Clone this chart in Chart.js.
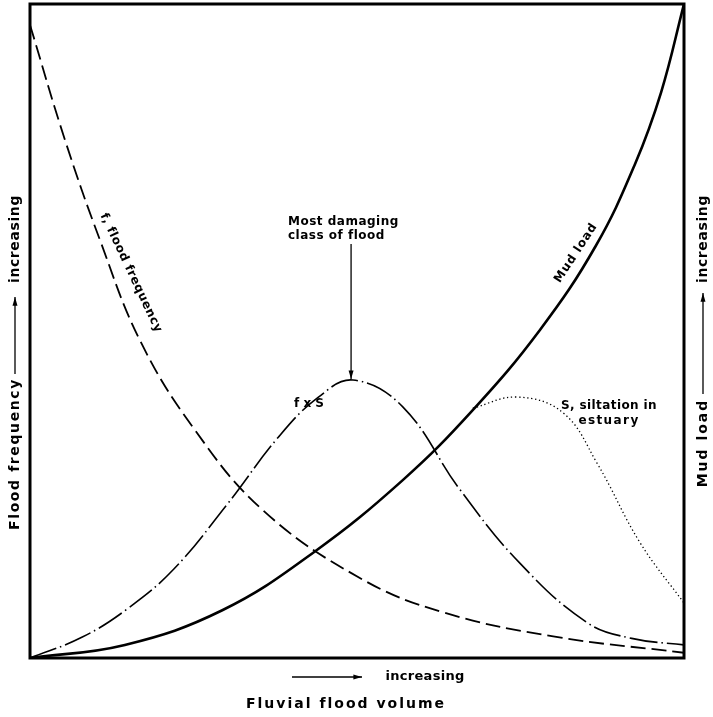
<!DOCTYPE html>
<html>
<head>
<meta charset="utf-8">
<script src="https://cdn.jsdelivr.net/npm/chart.js@4.4.1/dist/chart.umd.min.js"></script>
<style>
  html, body { margin: 0; padding: 0; background: #fff; }
  #wrap { width: 713px; height: 717px; }
</style>
</head>
<body>
<div id="wrap"><canvas id="chart" width="713" height="717"></canvas></div>
<script>
// Fluvial flood volume (0-100, relative) and curve values
const freqX = [0, 5.35, 10.7, 16.8, 24.9, 35.6, 50.5, 63.1, 80, 100];
const freqY = [96.8, 79.2, 63.9, 48.6, 35.3, 22.6, 12.2, 7.0, 3.3, 0.8];

const mudX = [0, 14.5, 29.4, 43.3, 57.0, 67.7, 78.0, 86.5, 92.5, 96.5, 100];
const mudY = [0, 2.0, 7.3, 16.1, 27.2, 37.9, 50.2, 63.0, 75.5, 86.5, 100];

const fxsX = [0, 8, 15, 22, 30, 38, 44, 49.4, 57.0, 65.7, 74.9, 85.2, 92.0, 100];
const fxsY = [0, 3.2, 7.6, 13.6, 23.3, 33.8, 39.8, 42.5, 38.4, 25.8, 14.5, 5.4, 3.0, 2.0];

const siltX = [67.7, 74.5, 81.5, 86.7, 93.3, 100];
const siltY = [38.2, 39.9, 37.5, 29.8, 17.6, 8.4];

const peakX = 49.4;   // most damaging class of flood
const peakY = 42.5;

const toPoints = (xs, ys) => xs.map((x, i) => ({ x: x, y: ys[i] }));

const FONT = '"DejaVu Sans", sans-serif';

function arrow(ctx, x1, y1, x2, y2) {
  const a = Math.atan2(y2 - y1, x2 - x1);
  ctx.beginPath();
  ctx.moveTo(x1, y1);
  ctx.lineTo(x2, y2);
  ctx.stroke();
  ctx.beginPath();
  ctx.moveTo(x2, y2);
  ctx.lineTo(x2 - 9 * Math.cos(a - 0.28), y2 - 9 * Math.sin(a - 0.28));
  ctx.lineTo(x2 - 9 * Math.cos(a + 0.28), y2 - 9 * Math.sin(a + 0.28));
  ctx.closePath();
  ctx.fill();
}

function label(ctx, text, x, y, angle, font, spacing, align) {
  ctx.save();
  ctx.translate(x, y);
  ctx.rotate(angle);
  ctx.font = font;
  ctx.letterSpacing = (spacing || 0) + 'px';
  ctx.textAlign = align || 'center';
  ctx.textBaseline = 'middle';
  ctx.fillText(text, 0, 0);
  ctx.restore();
}

// frame + annotations
const decor = {
  id: 'decor',
  afterDatasetsDraw(chart) {
    const ctx = chart.ctx;
    const a = chart.chartArea;
    const xs = chart.scales.x, ys = chart.scales.y;
    ctx.save();
    ctx.strokeStyle = '#000';
    ctx.fillStyle = '#000';
    ctx.lineWidth = 3;
    ctx.strokeRect(a.left, a.top, a.right - a.left, a.bottom - a.top);

    ctx.lineWidth = 1.3;
    // left axis caption
    label(ctx, 'Flood frequency', 15, 454, -Math.PI / 2, 'bold 14px ' + FONT, 1.6);
    arrow(ctx, 15, 374, 15, 297);
    label(ctx, 'increasing', 15, 239, -Math.PI / 2, 'bold 14px ' + FONT, 0.6);
    // right axis caption
    label(ctx, 'Mud load', 703, 443, -Math.PI / 2, 'bold 14px ' + FONT, 2);
    arrow(ctx, 703, 394, 703, 293);
    label(ctx, 'increasing', 703, 239, -Math.PI / 2, 'bold 14px ' + FONT, 0.6);
    // bottom caption
    arrow(ctx, 292, 677, 362, 677);
    label(ctx, 'increasing', 425, 677, 0, 'bold 13px ' + FONT, 0.3);
    label(ctx, 'Fluvial flood volume', 346, 704, 0, 'bold 14px ' + FONT, 2);

    // annotations inside plot
    const px = xs.getPixelForValue(peakX);
    label(ctx, 'Most damaging', 288, 222, 0, 'bold 12px ' + FONT, 0.5, 'left');
    label(ctx, 'class of flood', 288, 236, 0, 'bold 12px ' + FONT, 0.5, 'left');
    arrow(ctx, px - 2, 244, px - 2, ys.getPixelForValue(peakY) - 1);
    label(ctx, 'f x S', 309, 404, 0, 'bold 12px ' + FONT, 0);
    label(ctx, 'S, siltation in', 609, 406, 0, 'bold 12px ' + FONT, 0.4);
    label(ctx, 'estuary', 609, 421, 0, 'bold 12px ' + FONT, 1.4);
    label(ctx, 'f, flood frequency', 131, 273, Math.atan2(127, 60), 'bold 12px ' + FONT, 0.6);
    label(ctx, 'Mud load', 576, 253, -Math.atan2(67, 44), 'bold 12px ' + FONT, 0.8);
    ctx.restore();
  }
};

const common = { pointRadius: 0, fill: false, showLine: true, tension: 0.4, borderColor: '#000' };

new Chart(document.getElementById('chart').getContext('2d'), {
  type: 'scatter',
  data: {
    datasets: [
      Object.assign({ label: 'f, flood frequency', data: toPoints(freqX, freqY), borderWidth: 1.8, borderDash: [15, 6] }, common),
      Object.assign({ label: 'Mud load', data: toPoints(mudX, mudY), borderWidth: 2.6 }, common),
      Object.assign({ label: 'f x S', data: toPoints(fxsX, fxsY), borderWidth: 1.6, borderDash: [28, 4, 1.5, 4] }, common),
      Object.assign({ label: 'S, siltation in estuary', data: toPoints(siltX, siltY), borderWidth: 1.3, borderDash: [1.3, 2.7] }, common)
    ]
  },
  options: {
    responsive: false,
    animation: false,
    layout: { padding: { left: 30, top: 4, right: 29, bottom: 59 } },
    plugins: { legend: { display: false }, tooltip: { enabled: false } },
    scales: {
      x: { type: 'linear', min: 0, max: 100, display: false },
      y: { type: 'linear', min: 0, max: 100, display: false }
    }
  },
  plugins: [decor]
});
</script>
</body>
</html>
